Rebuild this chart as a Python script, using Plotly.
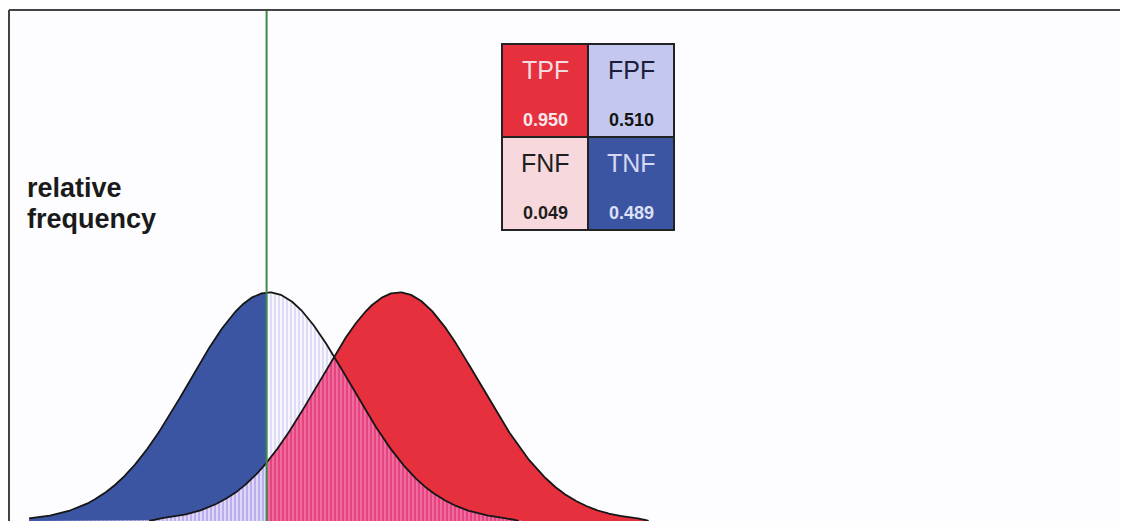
import numpy as np
import plotly.graph_objects as go

# ---- data (score in SD units of the negative class) ----
score = [-3.0, -2.875, -2.75, -2.625, -2.5, -2.375, -2.25, -2.125, -2.0, -1.875, -1.75, -1.625,
         -1.5, -1.375, -1.25, -1.125, -1.0, -0.875, -0.75, -0.625, -0.5, -0.375, -0.25, -0.125,
         0.0, 0.125, 0.25, 0.375, 0.5, 0.625, 0.75, 0.875, 1.0, 1.125, 1.25, 1.375,
         1.5, 1.625, 1.75, 1.875, 2.0, 2.125, 2.25, 2.375, 2.5, 2.625, 2.75, 2.875,
         3.0, 3.125, 3.25, 3.375, 3.5, 3.625, 3.75, 3.875, 4.0, 4.125, 4.25, 4.375,
         4.5, 4.625, 4.75]
negative_freq = [0.011, 0.016, 0.023, 0.032, 0.044, 0.060, 0.080, 0.105, 0.135, 0.172, 0.216, 0.267,
                 0.325, 0.389, 0.458, 0.531, 0.607, 0.682, 0.755, 0.823, 0.882, 0.932, 0.969, 0.992,
                 1.000, 0.992, 0.969, 0.932, 0.882, 0.823, 0.755, 0.682, 0.607, 0.531, 0.458, 0.389,
                 0.325, 0.267, 0.216, 0.172, 0.135, 0.105, 0.080, 0.060, 0.044, 0.032, 0.023, 0.016,
                 0.011, 0.0, 0.0, 0.0, 0.0, 0.0, 0.0, 0.0, 0.0, 0.0, 0.0, 0.0,
                 0.0, 0.0, 0.0]
positive_freq = [0.0, 0.0, 0.0, 0.0, 0.0, 0.0, 0.0, 0.0, 0.0, 0.0, 0.0, 0.0,
                 0.0, 0.011, 0.016, 0.023, 0.032, 0.044, 0.060, 0.080, 0.105, 0.135, 0.172, 0.216,
                 0.267, 0.325, 0.389, 0.458, 0.531, 0.607, 0.682, 0.755, 0.823, 0.882, 0.932, 0.969,
                 0.992, 1.000, 0.992, 0.969, 0.932, 0.882, 0.823, 0.755, 0.682, 0.607, 0.531, 0.458,
                 0.389, 0.325, 0.267, 0.216, 0.172, 0.135, 0.105, 0.080, 0.060, 0.044, 0.032, 0.023,
                 0.016, 0.011, 0.0]
threshold = -0.03

cell_labels = ["TPF", "FPF", "FNF", "TNF"]
cell_values = [0.950, 0.510, 0.049, 0.489]
y_label_lines = ["relative", "frequency"]

# ---- styling ----
C_BLUE = "#3b55a2"
C_RED = "#e6303e"
C_LAV = "#c4c8ee"
C_PINK = "#f7d9dd"
FONT = "Liberation Sans, Arial, sans-serif"

OFF = 8                      # page body margin
W, H = 1128 - OFF, 521 - OFF
# plot area in page pixels: left 9, top 10, right 1128, bottom 521
ML, MT, MR, MB = 9 - OFF, 10 - OFF, 0, 0
PW, PH = W - ML - MR, H - MT - MB
SD_PX = 80.0
X0 = -(269 - 9) / SD_PX
X1 = X0 + PW / SD_PX
Y1 = PH / 229.0


def px2x(px):   # page pixel -> paper
    return (px - 9) / PW


def py2y(py):
    return (521 - py) / PH


xf = np.linspace(score[0], score[-1], 1601)
bf = np.interp(xf, score, negative_freq)
rf = np.interp(xf, score, positive_freq)

xl = np.append(xf[xf < threshold], threshold)
xr = np.insert(xf[xf > threshold], 0, threshold)


def area(xs, ys):
    return np.concatenate([[xs[0]], xs, [xs[-1]]]), np.concatenate([[0], ys, [0]])


def b_at(x):
    return np.interp(x, score, negative_freq)


def r_at(x):
    return np.interp(x, score, positive_freq)


fig = go.Figure()

# blue solid (TNF) left of threshold
ax, ay = area(xl, b_at(xl))
fig.add_trace(go.Scatter(x=ax, y=ay, fill="toself", fillcolor=C_BLUE, mode="lines",
                         line=dict(width=0), hoverinfo="skip"))
# overlap left of threshold: purple stripes
ax, ay = area(xl, np.minimum(b_at(xl), r_at(xl)))
fig.add_trace(go.Scatter(x=ax, y=ay, fill="toself", fillcolor="#e0d8fa", mode="lines",
                         line=dict(width=0), hoverinfo="skip",
                         fillpattern=dict(shape="|", fgcolor="#9078dc", bgcolor="#e0d8fa",
                                          size=4, solidity=0.45)))
# red solid (TPF) right of threshold
ax, ay = area(xr, r_at(xr))
fig.add_trace(go.Scatter(x=ax, y=ay, fill="toself", fillcolor=C_RED, mode="lines",
                         line=dict(width=0), hoverinfo="skip"))
# negatives right of threshold (FPF): light lavender stripes
ax, ay = area(xr, b_at(xr))
fig.add_trace(go.Scatter(x=ax, y=ay, fill="toself", fillcolor="#f6f4fe", mode="lines",
                         line=dict(width=0), hoverinfo="skip",
                         fillpattern=dict(shape="|", fgcolor="#c2c0ec", bgcolor="#f8f6ff",
                                          size=4, solidity=0.5)))
# overlap right of threshold: pink/red stripes
ax, ay = area(xr, np.minimum(b_at(xr), r_at(xr)))
fig.add_trace(go.Scatter(x=ax, y=ay, fill="toself", fillcolor="#f06aa0", mode="lines",
                         line=dict(width=0), hoverinfo="skip",
                         fillpattern=dict(shape="|", fgcolor="#dc2050", bgcolor="#f06aa4",
                                          size=4, solidity=0.5)))

# outlines
mb = bf > 0.0
fig.add_trace(go.Scatter(x=xf[mb], y=bf[mb], mode="lines",
                         line=dict(color="#161616", width=1.8), hoverinfo="skip"))
mr = rf > 0.0
fig.add_trace(go.Scatter(x=xf[mr], y=rf[mr], mode="lines",
                         line=dict(color="#161616", width=1.8), hoverinfo="skip"))

shapes = []
# threshold line
shapes.append(dict(type="line", xref="x", yref="paper", x0=threshold, x1=threshold, y0=0, y1=1,
                   line=dict(color="#3a8a4c", width=2)))
# frame (left and top)
shapes.append(dict(type="line", xref="paper", yref="paper", x0=0, x1=0, y0=0, y1=1,
                   line=dict(color="#444444", width=2)))
shapes.append(dict(type="line", xref="paper", yref="paper", x0=0, x1=1, y0=1, y1=1,
                   line=dict(color="#444444", width=2)))

# confusion table inset
cell_fill = [C_RED, C_LAV, C_PINK, C_BLUE]
label_col = ["#f6dbe0", "#1c1c3c", "#1e1e1e", "#d4d8f4"]
value_col = ["#fbe8ec", "#141414", "#1e1e1e", "#dde0f6"]
cx = [502, 588, 674]
cy = [44, 137, 230]
annotations = []
for i in range(4):
    r, c = divmod(i, 2)
    x0p, x1p = cx[c], cx[c + 1]
    y0p, y1p = cy[r], cy[r + 1]
    shapes.append(dict(type="rect", xref="paper", yref="paper",
                       x0=px2x(x0p), x1=px2x(x1p), y0=py2y(y1p), y1=py2y(y0p),
                       fillcolor=cell_fill[i], line=dict(color="#222222", width=2), layer="above"))
    xm = px2x((x0p + x1p) / 2)
    annotations.append(dict(xref="paper", yref="paper", x=xm, y=py2y(y0p + 26),
                            text=cell_labels[i], showarrow=False, xanchor="center", yanchor="middle",
                            font=dict(family=FONT, size=25, color=label_col[i])))
    annotations.append(dict(xref="paper", yref="paper", x=xm, y=py2y(y0p + 76),
                            text="<b>%.3f</b>" % cell_values[i], showarrow=False,
                            xanchor="center", yanchor="middle",
                            font=dict(family=FONT, size=18, color=value_col[i])))

# y label
for k, line in enumerate(y_label_lines):
    annotations.append(dict(xref="paper", yref="paper", x=px2x(25), y=py2y(188 + 31 * k),
                            text="<b>%s</b>" % line, showarrow=False, xanchor="left",
                            yanchor="middle", font=dict(family=FONT, size=27, color="#1a1a1a")))

fig.update_layout(
    width=W, height=H,
    margin=dict(l=ML, r=MR, t=MT, b=MB, pad=0),
    paper_bgcolor="#fdfcfe", plot_bgcolor="#fdfcfe",
    showlegend=False,
    shapes=shapes, annotations=annotations,
    xaxis=dict(range=[X0, X1], visible=False, fixedrange=True),
    yaxis=dict(range=[0, Y1], visible=False, fixedrange=True),
)

fig.write_html("out.html")
